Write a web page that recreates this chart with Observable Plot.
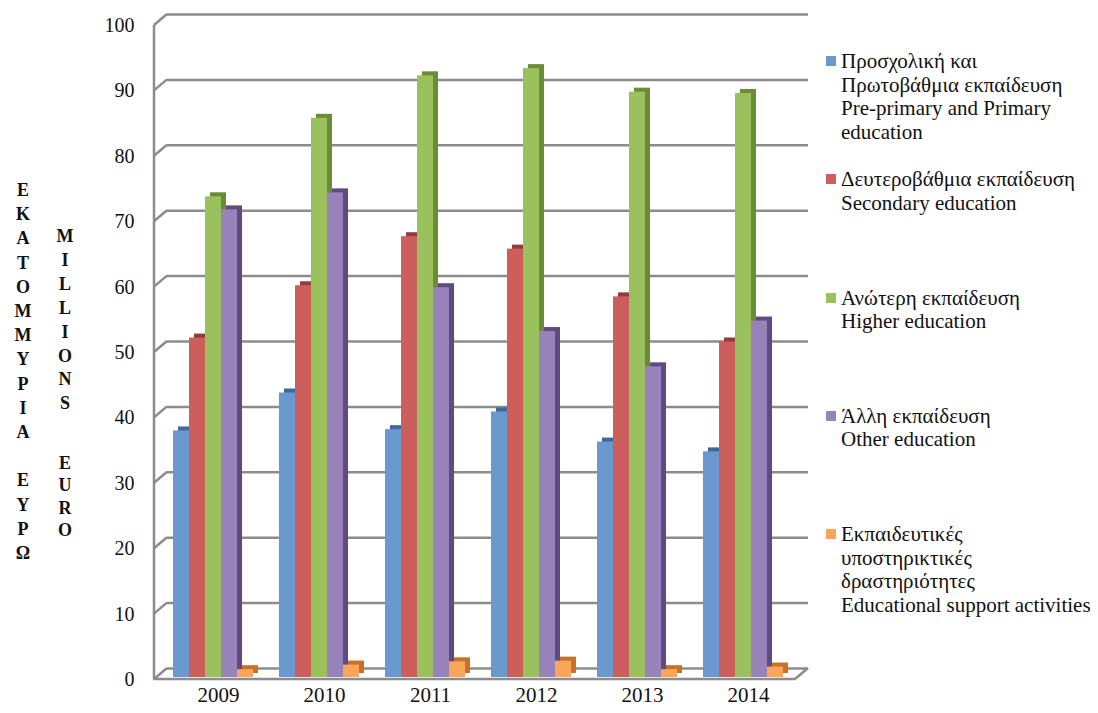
<!DOCTYPE html>
<html>
<head>
<meta charset="utf-8">
<script src="https://cdn.jsdelivr.net/npm/d3@7"></script>
<script src="https://cdn.jsdelivr.net/npm/@observablehq/plot@0.6"></script>
<style>
html, body { margin: 0; padding: 0; background: #fff; }
#chart { position: relative; width: 1098px; height: 713px; overflow: hidden;
  font-family: "Liberation Serif", "Times New Roman", serif; color: #111; }
#chart svg { position: absolute; left: 0; top: 0; }
.ycol { position: absolute; font-weight: bold; font-size: 18px; text-align: center; width: 24px; }
.legend { position: absolute; left: 826px; top: 50px; }
.item { position: relative; height: 118.25px; font-size: 21px; line-height: 23.5px; }
.sw { position: absolute; left: 0; top: 6px; width: 10px; height: 10px; }
.lbl { position: absolute; left: 15px; top: 0; white-space: nowrap; }
</style>
</head>
<body>
<div id="chart"></div>
<script>
// ---- data ----
const years = ["2009", "2010", "2011", "2012", "2013", "2014"];
const seriesKeys = ["pre", "sec", "high", "other", "support"];
const preprimary = [37.7, 43.5, 37.9, 40.6, 36.0, 34.5];
const secondary  = [51.9, 59.9, 67.4, 65.5, 58.2, 51.3];
const higher     = [73.5, 85.5, 92.0, 93.1, 89.5, 89.3];
const other      = [71.5, 74.1, 59.6, 52.9, 47.5, 54.5];
const support    = [1.2, 1.9, 2.4, 2.5, 1.2, 1.6];
const yTicks = [0, 10, 20, 30, 40, 50, 60, 70, 80, 90, 100];
const legendLabels = [
  ["Προσχολική και", "Πρωτοβάθμια εκπαίδευση", "Pre-primary and Primary", "education"],
  ["Δευτεροβάθμια εκπαίδευση", "Secondary education"],
  ["Ανώτερη εκπαίδευση", "Higher education"],
  ["Άλλη εκπαίδευση", "Other education"],
  ["Εκπαιδευτικές", "υποστηρικτικές", "δραστηριότητες", "Educational support activities"]
];
const titleGreek = ["Ε","Κ","Α","Τ","Ο","Μ","Μ","Υ","Ρ","Ι","Α","","Ε","Υ","Ρ","Ω"];
const titleEn1 = ["M","I","L","L","I","O","N","S"];
const titleEn2 = ["E","U","R","O"];

// ---- styling ----
const fills = ["#6a98cf", "#cc5f5c", "#9bc05e", "#9783b9", "#f9a65a"];
const darks = ["#40699a", "#933d3b", "#6b8c36", "#5f4b81", "#c9712a"];
const GRID = "#8c8c8c";
const DX = 13, DY = 11;
const W = 810, H = 713;
const M = {marginLeft: 154, marginRight: 15, marginTop: 25, marginBottom: 34};
const band = {paddingInner: 0.23, paddingOuter: 0.1215, align: 0.615};

const values = [preprimary, secondary, higher, other, support];
const rows = years.flatMap((yr, i) => seriesKeys.map((s, j) => ({year: yr, series: s, value: values[j][i]})));

// 3D wall: front axis, slanted tick connectors, floor
function wall(index, scales, vals, dims) {
  const y = scales.y;
  const L = dims.marginLeft, R = dims.width - dims.marginRight;
  const g = d3.create("svg:g").attr("fill", "none").attr("stroke", GRID)
    .attr("stroke-width", 2.5).attr("stroke-linejoin", "round");
  for (const t of yTicks) g.append("path").attr("d", `M${L},${y(t)}l${DX},${-DY}`);
  g.append("path").attr("d", `M${L},${y(100)}V${y(0)}H${R}l${DX},${-DY}`);
  return g.node();
}

const bg = Plot.plot({
  width: W, height: H, ...M,
  x: {domain: years, ...band, axis: null},
  y: {domain: [0, 100], axis: null},
  style: {fontFamily: "Liberation Serif, Times New Roman, serif", background: "white", color: "#111"},
  marks: [
    Plot.ruleY(yTicks, {y: d => d, dx: DX, dy: -DY, stroke: GRID, strokeWidth: 2.5}),
    wall,
    Plot.text(yTicks, {y: d => d, text: d => String(d), frameAnchor: "left", dx: -20, textAnchor: "end", fontSize: 20, fill: "#111"}),
    Plot.text(years, {x: d => d, text: d => d, frameAnchor: "bottom", dy: 22, dx: -4, fontSize: 21, fill: "#111"})
  ]
});

const barMarks = seriesKeys.flatMap((s, j) => [
  Plot.barY(rows, {filter: d => d.series === s, fx: "year", x: "series", y: "value", fill: darks[j], dx: 5, dy: -6}),
  Plot.barY(rows, {filter: d => d.series === s, fx: "year", x: "series", y: "value", fill: fills[j], dy: -2})
]);

const fg = Plot.plot({
  width: W, height: H, ...M,
  fx: {domain: years, ...band, axis: null, label: null},
  x: {domain: seriesKeys, padding: 0, axis: null},
  y: {domain: [0, 100], axis: null},
  style: {background: "transparent"},
  marks: barMarks
});

const chart = document.getElementById("chart");
chart.appendChild(bg);
chart.appendChild(fg);

// y-axis title (vertical letters)
function col(letters, left, top, lh) {
  const d = document.createElement("div");
  d.className = "ycol";
  d.style.left = left + "px";
  d.style.top = top + "px";
  d.style.lineHeight = lh + "px";
  d.innerHTML = letters.map(c => c === "" ? "&nbsp;" : c).join("<br>");
  chart.appendChild(d);
}
col(titleGreek, 11, 178, 24.2);
col(titleEn1, 53, 225, 23.9);
col(titleEn2, 53, 452, 22.4);

// legend
const lg = document.createElement("div");
lg.className = "legend";
legendLabels.forEach((lines, j) => {
  const it = document.createElement("div");
  it.className = "item";
  const sw = document.createElement("div");
  sw.className = "sw";
  sw.style.background = fills[j];
  const lb = document.createElement("div");
  lb.className = "lbl";
  lb.innerHTML = lines.join("<br>");
  it.appendChild(sw);
  it.appendChild(lb);
  lg.appendChild(it);
});
chart.appendChild(lg);
</script>
</body>
</html>
